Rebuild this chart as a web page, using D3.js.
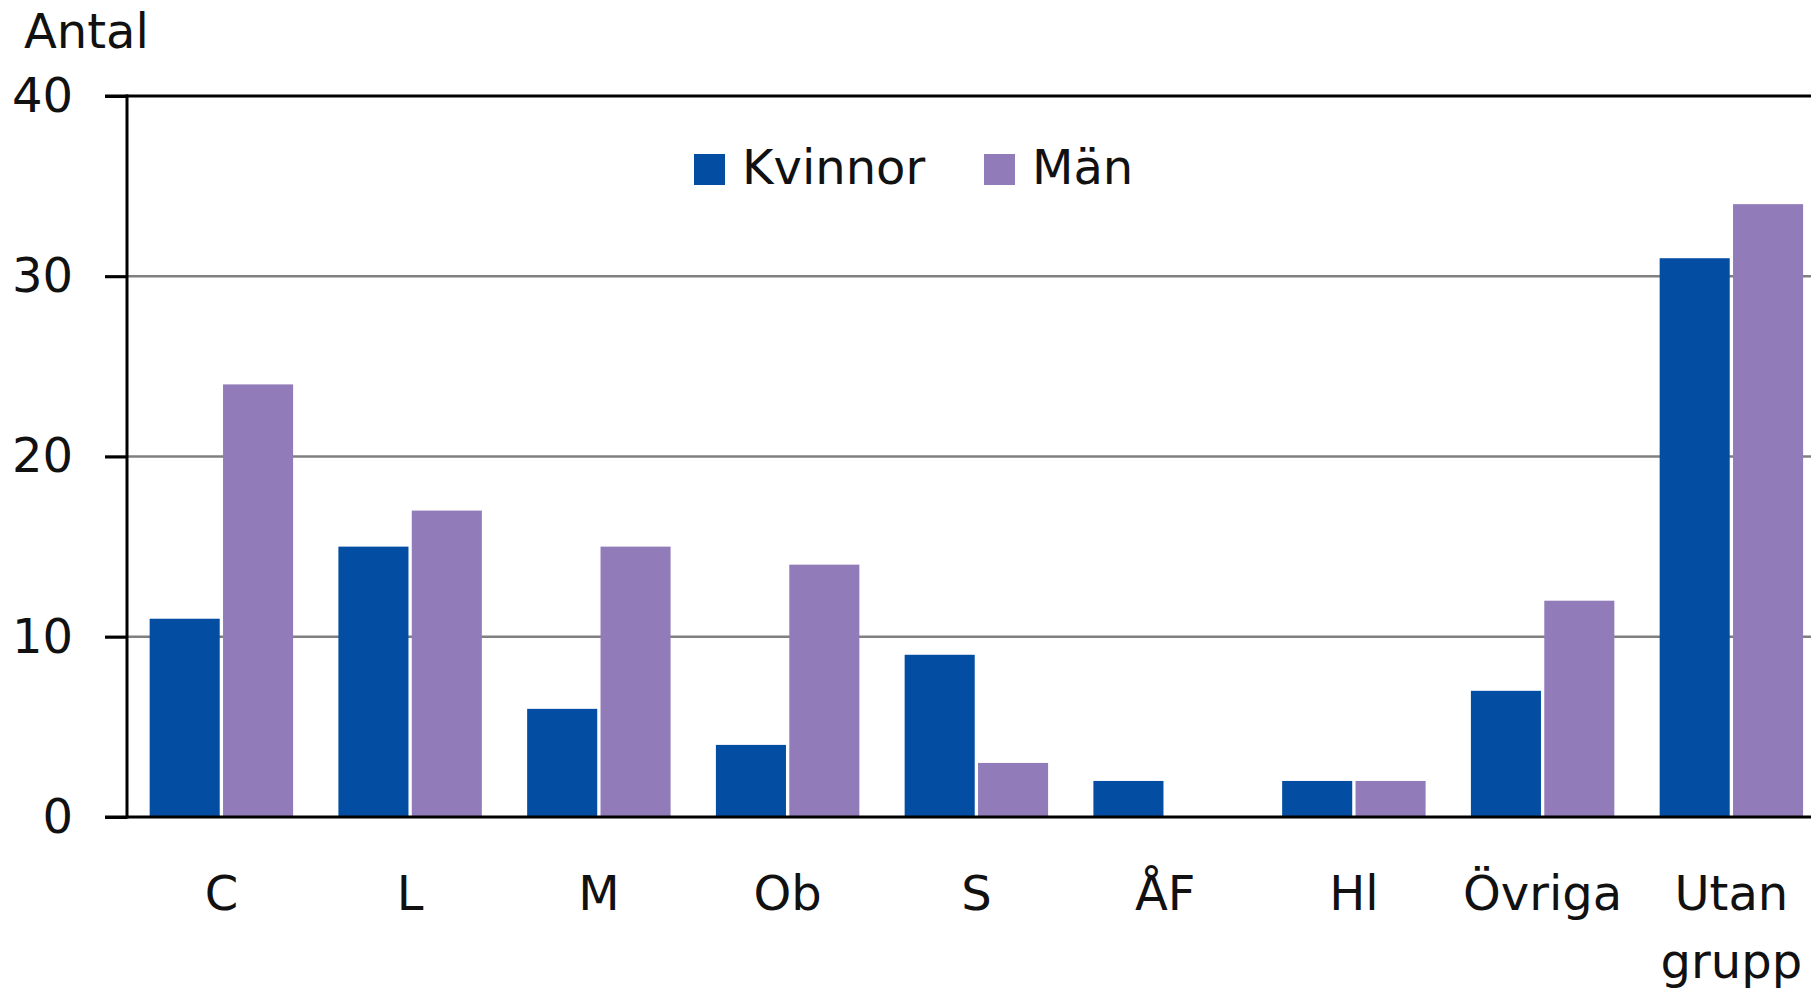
<!DOCTYPE html>
<html lang="sv">
<head>
  <meta charset="UTF-8">
  <title>Antal per grupp - Kvinnor och Män</title>
  <script src="https://d3js.org/d3.v7.min.js"></script>
  <style>
    html, body { margin: 0; padding: 0; background: #fff; overflow: hidden; }
    text { font-family: "DejaVu Sans", sans-serif; fill: #111; }
  </style>
</head>
<body>
  <div id="chart"></div>

  <script>
    // Data
    const categories = ["C", "L", "M", "Ob", "S", "ÅF", "Hl", "Övriga", "Utan grupp"];
    const kvinnorValues = [11, 15, 6, 4, 9, 2, 2, 7, 31];
    const manValues = [24, 17, 15, 14, 3, 0, 2, 12, 34];
    const seriesNames = ["Kvinnor", "Män"];
    const yTicks = [0, 10, 20, 30, 40];

    const W = 1811, H = 989;
    const plotLeft = 127, plotTop = 96, plotBottom = 817;
    const step = 188.75;

    const svg = d3.select("#chart").append("svg")
      .attr("width", W)
      .attr("height", H);

    const data = categories.map((c, i) => ({ cat: c, Kvinnor: kvinnorValues[i], "Män": manValues[i] }));

    // x scales: categories, then series within a category
    const x0 = d3.scaleBand()
      .domain(categories)
      .range([plotLeft, plotLeft + step * categories.length])
      .paddingInner(0.24)
      .paddingOuter(0.12);

    const x1 = d3.scaleBand()
      .domain(seriesNames)
      .range([0, x0.bandwidth()])
      .paddingInner(0.045);

    const y = d3.scaleLinear()
      .domain([0, 40])
      .range([plotBottom, plotTop]);

    const color = d3.scaleOrdinal()
      .domain(seriesNames)
      .range(["#034ea2", "#917cb9"]);

    // grid lines (40 is black like a frame, the rest grey)
    svg.append("g").selectAll("line")
      .data(yTicks.filter(d => d > 0))
      .enter().append("line")
        .attr("x1", 105)
        .attr("x2", W)
        .attr("y1", d => y(d))
        .attr("y2", d => y(d))
        .attr("stroke", d => d === 40 ? "#000" : "#808080")
        .attr("stroke-width", d => d === 40 ? 3 : 2.5);

    // bars
    const groups = svg.selectAll(".grp")
      .data(data)
      .enter().append("g")
        .attr("class", "grp")
        .attr("transform", d => "translate(" + x0(d.cat) + ",0)");

    groups.selectAll("rect")
      .data(d => seriesNames.map(k => ({ key: k, value: d[k] })))
      .enter().append("rect")
        .attr("x", d => x1(d.key))
        .attr("y", d => y(d.value))
        .attr("width", x1.bandwidth())
        .attr("height", d => plotBottom - y(d.value))
        .attr("fill", d => color(d.key));

    // y axis
    const yAxis = svg.append("g")
      .attr("transform", "translate(" + plotLeft + ",0)")
      .call(d3.axisLeft(y).tickValues(yTicks).tickSize(22).tickPadding(32));
    yAxis.select(".domain").remove();
    yAxis.selectAll(".tick line").attr("stroke", "#000").attr("stroke-width", 3);
    yAxis.selectAll(".tick text")
      .style("font-size", "48px")
      .attr("fill", "#111");

    // vertical axis line
    svg.append("line")
      .attr("x1", plotLeft).attr("x2", plotLeft)
      .attr("y1", y(40) - 1.5).attr("y2", plotBottom + 1.5)
      .attr("stroke", "#000").attr("stroke-width", 3);

    // x axis line
    svg.append("line")
      .attr("x1", 105).attr("x2", W)
      .attr("y1", plotBottom).attr("y2", plotBottom)
      .attr("stroke", "#000").attr("stroke-width", 3);

    // x axis labels (two lines where the name has a space)
    const xAxis = svg.append("g")
      .attr("transform", "translate(0," + plotBottom + ")")
      .call(d3.axisBottom(x0).tickSize(0).tickPadding(0));
    xAxis.select(".domain").remove();
    xAxis.selectAll(".tick text")
      .style("font-size", "48px")
      .attr("fill", "#111")
      .attr("dy", null)
      .attr("y", 0)
      .text(null)
      .each(function (d) {
        const parts = d.split(" ");
        const t = d3.select(this);
        parts.forEach((p, i) => {
          t.append("tspan")
            .attr("x", 0)
            .attr("y", 93 + i * 68)
            .text(p);
        });
      });

    // y axis title
    svg.append("text")
      .attr("x", 24)
      .attr("y", 48)
      .style("font-size", "48px")
      .text("Antal");

    // legend
    const legendX = [694, 984];
    const legend = svg.append("g");
    seriesNames.forEach((s, i) => {
      legend.append("rect")
        .attr("x", legendX[i])
        .attr("y", 154)
        .attr("width", 31)
        .attr("height", 31)
        .attr("fill", color(s));
      legend.append("text")
        .attr("x", legendX[i] + 48)
        .attr("y", 184)
        .style("font-size", "48px")
        .text(s);
    });
  </script>
</body>
</html>
